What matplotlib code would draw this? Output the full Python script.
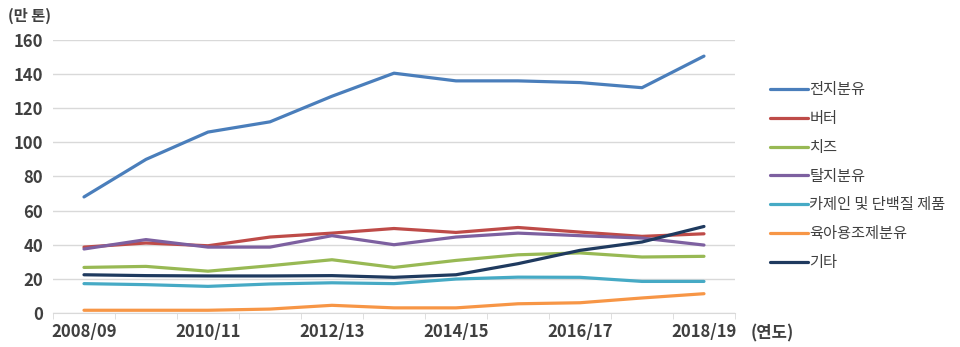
import numpy as np
import matplotlib
matplotlib.use("Agg")
import matplotlib.pyplot as plt

plt.rcParams["font.family"] = ["Noto Sans CJK KR", "DejaVu Sans"]

# ── data (만 톤) ─────────────────────────────────────────────────────────────
years = ["2008/09", "2009/10", "2010/11", "2011/12", "2012/13", "2013/14",
         "2014/15", "2015/16", "2016/17", "2017/18", "2018/19"]

whole_milk_powder = [68, 90, 106, 112, 127, 140.5, 136, 136, 135, 132, 150.5]
butter            = [38.6, 41, 39.4, 44.5, 46.8, 49.5, 47.2, 50.1, 47.4, 44.9, 46.4]
cheese            = [26.7, 27.3, 24.5, 27.7, 31.2, 26.7, 30.8, 34.1, 35.2, 32.8, 33.2]
skim_milk_powder  = [37.5, 43, 38.6, 38.6, 45.3, 40, 44.5, 46.8, 45.3, 43.9, 39.8]
casein_protein    = [17.2, 16.6, 15.6, 17.0, 17.7, 17.2, 19.9, 21.0, 20.9, 18.5, 18.5]
infant_formula    = [1.6, 1.6, 1.6, 2.3, 4.5, 3.0, 3.0, 5.4, 6.0, 8.8, 11.3]
others            = [22.4, 21.9, 21.7, 21.7, 21.9, 20.9, 22.4, 28.9, 36.7, 41.6, 50.7]

series = [
    ("전지분유", whole_milk_powder, "#4A7EBB"),
    ("버터", butter, "#BE4B48"),
    ("치즈", cheese, "#98B954"),
    ("탈지분유", skim_milk_powder, "#7D60A0"),
    ("카제인 및 단백질 제품", casein_protein, "#46AAC5"),
    ("육아용조제분유", infant_formula, "#F79646"),
    ("기타", others, "#1F3A5F"),
]

# ── figure ─────────────────────────────────────────────────────────────────
fig = plt.figure(figsize=(9.6, 3.47), dpi=100)
ax = fig.add_axes([0.0552, 0.098, 0.7104, 0.787])

x = np.arange(len(years))
for label, vals, color in series:
    ax.plot(x, vals, color=color, lw=2.3, label=label, solid_capstyle="round")

ax.set_xlim(-0.5, len(years) - 0.5)
ax.set_ylim(0, 160)
ax.set_yticks(np.arange(0, 161, 20))
ax.yaxis.grid(True, color="#D9D9D9", lw=1)
ax.set_axisbelow(True)

# labels every other category, tick marks at category boundaries
ax.set_xticks(x[::2])
ax.set_xticklabels(years[::2])
ax.set_xticks(np.arange(-0.5, len(years)), minor=True)
ax.tick_params(axis="x", which="major", length=0, pad=7)
ax.tick_params(axis="x", which="minor", length=4, color="#D9D9D9", direction="out")
ax.tick_params(axis="y", length=0, pad=7)

for lbl in ax.get_xticklabels() + ax.get_yticklabels():
    lbl.set_fontsize(12)
    lbl.set_color("#404040")
    lbl.set_fontweight("bold")

for side in ["top", "right", "left"]:
    ax.spines[side].set_visible(False)
ax.spines["bottom"].set_color("#D9D9D9")

fig.text(0.008, 0.955, "(만 톤)", fontsize=11, color="#404040", fontweight="bold",
         va="center", ha="left")
fig.text(0.782, 0.04, "(연도)", fontsize=12, color="#404040", fontweight="bold",
         va="center", ha="left")

fig.legend(loc="upper left", bbox_to_anchor=(0.7875, 0.805), frameon=False,
           fontsize=11, handlelength=2.5, handletextpad=0.1,
           labelspacing=0.77, labelcolor="#404040")

fig.savefig("out.png", dpi=100, facecolor="white")
